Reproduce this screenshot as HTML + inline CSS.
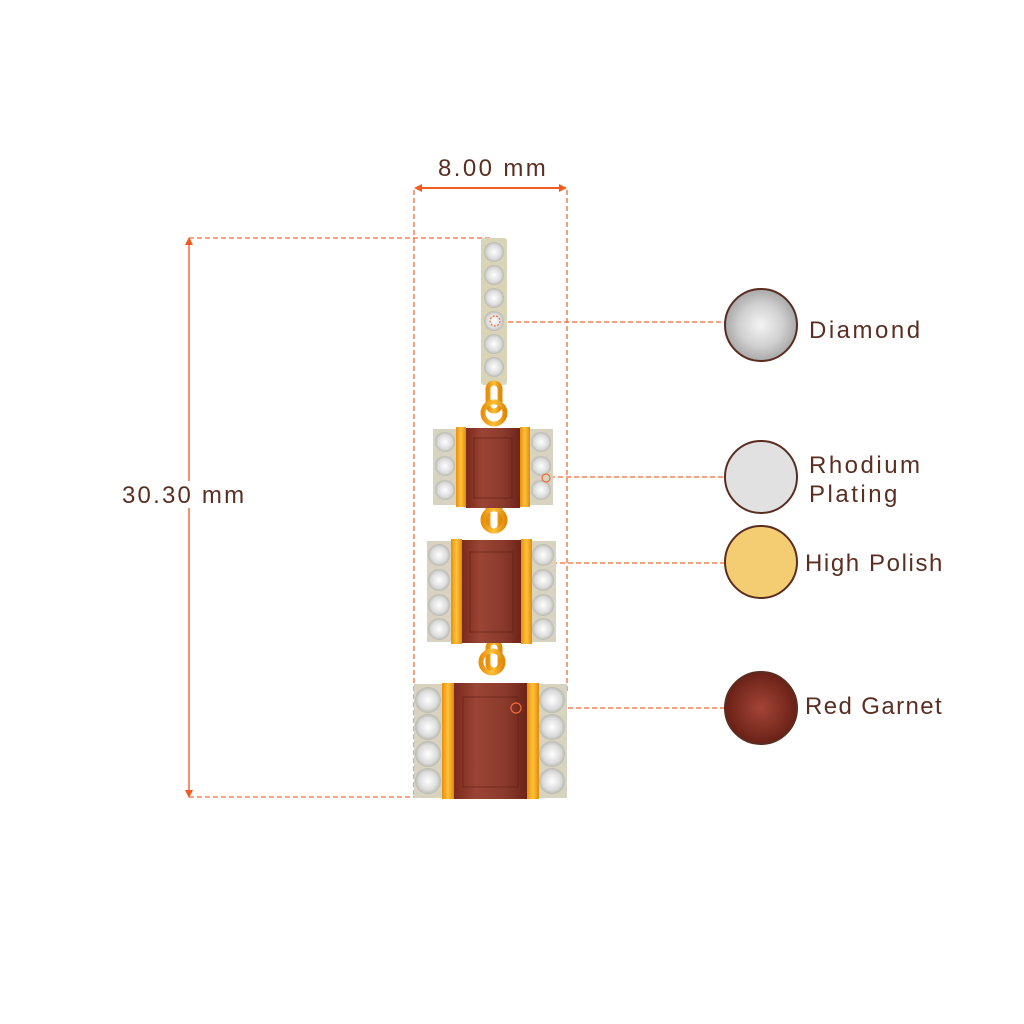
<!DOCTYPE html>
<html><head><meta charset="utf-8"><style>
html,body{margin:0;padding:0;background:#fff;}
svg{display:block}
text{font-family:"Liberation Sans",sans-serif;fill:#5b2e22;}
</style></head><body>
<svg width="1024" height="1024" viewBox="0 0 1024 1024" xmlns="http://www.w3.org/2000/svg">
<defs>
<linearGradient id="gold" x1="0" x2="1">
<stop offset="0" stop-color="#e98f0c"/><stop offset="0.5" stop-color="#ffc23a"/><stop offset="1" stop-color="#e08a0a"/></linearGradient>
<linearGradient id="gar" x1="0" x2="1">
<stop offset="0" stop-color="#7b2a1c"/><stop offset="0.3" stop-color="#9a4435"/><stop offset="0.7" stop-color="#8a3a2c"/><stop offset="1" stop-color="#6e2418"/></linearGradient>
<radialGradient id="dia"><stop offset="0" stop-color="#ffffff"/><stop offset="0.7" stop-color="#dcdcdc"/><stop offset="1" stop-color="#b9b9b0"/></radialGradient>
<radialGradient id="dcirc"><stop offset="0" stop-color="#f4f4f4"/><stop offset="0.6" stop-color="#d0d0d0"/><stop offset="1" stop-color="#a8a8a8"/></radialGradient>
<radialGradient id="gcirc"><stop offset="0" stop-color="#a34536"/><stop offset="1" stop-color="#6a2116"/></radialGradient>
</defs>

<g stroke="#f26a3a" stroke-width="1.3" fill="none" stroke-dasharray="5,3">
<line x1="414" y1="190" x2="414" y2="797"/>
<line x1="567" y1="190" x2="567" y2="693"/>
<line x1="189" y1="238" x2="490" y2="238"/>
<line x1="189" y1="797" x2="418" y2="797"/>
<line x1="500" y1="322" x2="725" y2="322"/>
<line x1="550" y1="477" x2="725" y2="477"/>
<line x1="528" y1="563" x2="725" y2="563"/>
<line x1="520" y1="708" x2="725" y2="708"/>
</g>
<line x1="418" y1="188" x2="563" y2="188" stroke="#f25a1e" stroke-width="2"/>
<path d="M414 188 L422 184 L422 192Z M567 188 L559 184 L559 192Z" fill="#f25a1e"/>
<line x1="189" y1="242" x2="189" y2="793" stroke="#f26a3a" stroke-width="1.5"/>
<path d="M189 237 L185 245 L193 245Z M189 798 L185 790 L193 790Z" fill="#f25a1e"/>
<rect x="186" y="481" width="7" height="27" fill="#fff"/>
<text x="438" y="176" font-size="24" letter-spacing="2.4">8.00 mm</text>
<text x="122" y="503" font-size="24" letter-spacing="2.2">30.30 mm</text>

<rect x="481" y="238" width="26" height="147" rx="3" fill="#d9d3b8"/>
<g fill="url(#dia)">
<circle cx="494" cy="252" r="10"/><circle cx="494" cy="275" r="10"/><circle cx="494" cy="298" r="10"/>
<circle cx="494" cy="321" r="10"/><circle cx="494" cy="344" r="10"/><circle cx="494" cy="367" r="10"/>
</g>
<circle cx="495" cy="321" r="5" fill="none" stroke="#f26a3a" stroke-width="1.2" stroke-dasharray="2,1.5"/>

<g fill="none" stroke="url(#gold)" stroke-width="5">
<rect x="488" y="383" width="12" height="28" rx="6"/>
<circle cx="494" cy="413" r="11"/>
<rect x="488" y="503" width="12" height="28" rx="6"/>
<circle cx="494" cy="520" r="11"/>
<rect x="488" y="642" width="12" height="28" rx="6"/>
<circle cx="492" cy="662" r="11"/>
</g>

<rect x="433" y="429" width="24" height="76" fill="#d8d3c0"/>
<rect x="529" y="429" width="24" height="76" fill="#d8d3c0"/>
<g fill="url(#dia)">
<circle cx="445" cy="442" r="10"/><circle cx="445" cy="466" r="10"/><circle cx="445" cy="490" r="10"/>
<circle cx="541" cy="442" r="10"/><circle cx="541" cy="466" r="10"/><circle cx="541" cy="490" r="10"/>
</g>
<rect x="456" y="427" width="10" height="80" fill="url(#gold)"/>
<rect x="520" y="427" width="10" height="80" fill="url(#gold)"/>
<rect x="466" y="428" width="54" height="80" fill="url(#gar)"/>
<rect x="474" y="438" width="38" height="60" fill="none" stroke="#5d1c12" stroke-width="1" opacity="0.6"/>
<circle cx="546" cy="478" r="4" fill="none" stroke="#f26a3a" stroke-width="1.2"/>

<rect x="427" y="541" width="25" height="101" fill="#d8d3c0"/>
<rect x="531" y="541" width="25" height="101" fill="#d8d3c0"/>
<g fill="url(#dia)">
<circle cx="439" cy="555" r="11"/><circle cx="439" cy="580" r="11"/><circle cx="439" cy="605" r="11"/><circle cx="439" cy="629" r="11"/>
<circle cx="543" cy="555" r="11"/><circle cx="543" cy="580" r="11"/><circle cx="543" cy="605" r="11"/><circle cx="543" cy="629" r="11"/>
</g>
<rect x="451" y="539" width="11" height="105" fill="url(#gold)"/>
<rect x="521" y="539" width="11" height="105" fill="url(#gold)"/>
<rect x="462" y="540" width="59" height="103" fill="url(#gar)"/>
<rect x="470" y="552" width="43" height="80" fill="none" stroke="#5d1c12" stroke-width="1" opacity="0.6"/>

<rect x="414" y="684" width="29" height="114" fill="#d8d3c0"/>
<rect x="538" y="684" width="29" height="114" fill="#d8d3c0"/>
<g fill="url(#dia)">
<circle cx="428" cy="700" r="13"/><circle cx="428" cy="727" r="13"/><circle cx="428" cy="754" r="13"/><circle cx="428" cy="781" r="13"/>
<circle cx="552" cy="700" r="13"/><circle cx="552" cy="727" r="13"/><circle cx="552" cy="754" r="13"/><circle cx="552" cy="781" r="13"/>
</g>
<rect x="442" y="683" width="12" height="116" fill="url(#gold)"/>
<rect x="527" y="683" width="12" height="116" fill="url(#gold)"/>
<rect x="454" y="683" width="73" height="116" fill="url(#gar)"/>
<rect x="463" y="697" width="55" height="90" fill="none" stroke="#5d1c12" stroke-width="1" opacity="0.6"/>
<circle cx="516" cy="708" r="5" fill="none" stroke="#f26a3a" stroke-width="1.2"/>

<g stroke="#5a2d20" stroke-width="2">
<circle cx="761" cy="325" r="36" fill="url(#dcirc)"/>
<circle cx="761" cy="477" r="36" fill="#e1e1e1"/>
<circle cx="761" cy="562" r="36" fill="#f4cd72"/>
<circle cx="761" cy="708" r="36" fill="url(#gcirc)"/>
</g>
<text x="809" y="338" font-size="24" letter-spacing="2.5">Diamond</text>
<text x="809" y="473" font-size="24" letter-spacing="2.5">Rhodium</text>
<text x="809" y="502" font-size="24" letter-spacing="2.5">Plating</text>
<text x="805" y="571" font-size="24" letter-spacing="1.6">High Polish</text>
<text x="805" y="714" font-size="24" letter-spacing="1.4">Red Garnet</text>
</svg>
</body></html>
